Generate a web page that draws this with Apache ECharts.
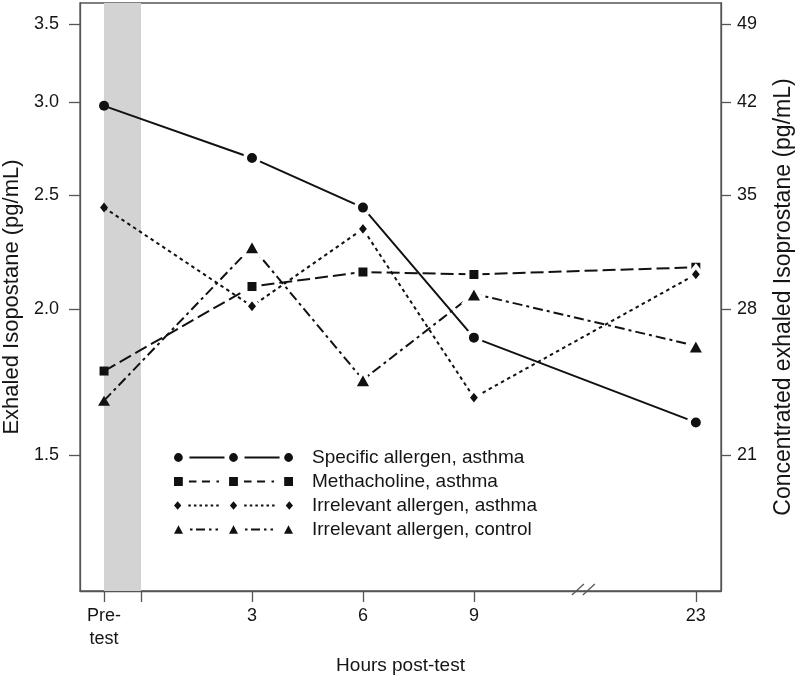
<!DOCTYPE html>
<html><head><meta charset="utf-8">
<script src="https://cdn.jsdelivr.net/npm/echarts@6/dist/echarts.min.js"></script>
<style>html,body{margin:0;padding:0;background:#fff}#c{width:795px;height:680px}</style>
</head><body><div id="c"></div>
<script>
// ---- data ----
const hourLabels = ['Pre-\ntest', '3', '6', '9', '23'];
const hourPositions = [-1, 3, 6, 9, 15];      // plotted position (axis is broken between 9 and 23)
const tickPositions = [-1, 0, 3, 6, 9, 15];
const seriesNames = ['Specific allergen, asthma', 'Methacholine, asthma', 'Irrelevant allergen, asthma', 'Irrelevant allergen, control'];
const specificAllergen = [2.98, 2.69, 2.44, 1.89, 1.60];
const methacholine = [1.77, 2.09, 2.15, 2.14, 2.17];
const irrelevantAsthma = [2.44, 2.01, 2.34, 1.68, 2.14];
const irrelevantControl = [1.67, 2.26, 1.74, 2.06, 1.86];
const leftTicks = [1.5, 2.0, 2.5, 3.0, 3.5];
const rightTicks = [21, 28, 35, 42, 49];
const rightFactor = 14;
const challengeWindow = [-1, 0];
const axisBreakAt = 12;
const yRange = [1.149, 3.647];
const xRange = [-1.65, 15.68];

const FONT = '"Liberation Sans", Arial, Helvetica, sans-serif';
const INK = '#111';
const TXT = '#151515';
const AXC = '#555';
const BAND = '#d3d3d3';
const ln = Math.log;

const styles = [
  { symbol: 'circle', size: 14, plain: 10, type: 'solid' },
  { symbol: 'rect', size: 13, plain: 9, type: [13, 5] },
  { symbol: 'diamond', size: [13, 16], plain: [8, 10], type: [3.5, 3.5] },
  { symbol: 'triangle', size: [19, 17], plain: [12, 10], type: [10, 4, 3, 4] }
];

function toPoints(vals, st) {
  return vals.map((v, i) => {
    const p = { value: [hourPositions[i], ln(v)] };
    if (hourPositions[i] === challengeWindow[0]) {
      p.symbolSize = st.plain;
      p.itemStyle = { borderWidth: 0 };
    }
    return p;
  });
}
function labelFor(list, v, digits) {
  for (const t of list) if (Math.abs(ln(t) - v) < 1e-6) return digits ? t.toFixed(digits) : String(t);
  return '';
}

// legend icon builders (shapes only)
const C = 6;
const circ = (cx, r) => `M${cx - r} ${C} A${r} ${r} 0 1 0 ${cx + r} ${C} A${r} ${r} 0 1 0 ${cx - r} ${C} Z `;
const sq = (cx, h) => `M${cx - h} ${C - h} L${cx + h} ${C - h} L${cx + h} ${C + h} L${cx - h} ${C + h} Z `;
const dia = (cx, w, h) => `M${cx} ${C - h} L${cx + w} ${C} L${cx} ${C + h} L${cx - w} ${C} Z `;
const tri = (cx, w, h) => `M${cx} ${C - h} L${cx + w} ${C + h} L${cx - w} ${C + h} Z `;
const seg = (a, b, t) => `M${a} ${C - t} L${b} ${C - t} L${b} ${C + t} L${a} ${C + t} Z `;
const centers = [4.5, 59.5, 114.5];
function icon(marker, segs) {
  let d = '';
  centers.forEach(c => d += marker(c));
  [0, 55].forEach(off => segs.forEach(s => d += seg(s[0] + off, s[1] + off, 0.9)));
  return 'path://' + d;
}
const legendIcons = [
  icon(c => circ(c, 4.4), [[15.5, 50.5]]),
  icon(c => sq(c, 4.4), [[15, 22.5], [28, 36], [42.5, 45]]),
  icon(c => dia(c, 3.6, 4.3), [[15, 17.5], [20.5, 23], [26, 28.5], [31.5, 34], [37, 39.5], [42.5, 45]]),
  icon(c => tri(c, 4.5, 4.3), [[16, 18.5], [22, 31], [35, 37.5], [41.5, 44]])
];

const values = [specificAllergen, methacholine, irrelevantAsthma, irrelevantControl];

const chart = echarts.init(document.getElementById('c'), null, { renderer: 'canvas' });

const series = [{
  type: 'line', name: 'band', data: [], silent: true, z: 0,
  markArea: { silent: true, itemStyle: { color: BAND, opacity: 1, borderWidth: 0 }, data: [[{ xAxis: challengeWindow[0] }, { xAxis: challengeWindow[1] }]] }
}];
values.forEach((vals, i) => {
  series.push({
    type: 'line', name: seriesNames[i], data: toPoints(vals, styles[i]), z: 3 + i,
    symbol: styles[i].symbol, symbolSize: styles[i].size, showSymbol: true,
    lineStyle: { color: INK, width: 2, type: styles[i].type },
    itemStyle: { color: INK, borderColor: '#fff', borderWidth: 4 },
    emphasis: { disabled: true }
  });
});

const axisText = { fontSize: 18, color: TXT, fontFamily: FONT };
const axisLine = { show: true, onZero: false, lineStyle: { color: AXC, width: 1.3 } };

chart.setOption({
  animation: false,
  backgroundColor: '#fff',
  grid: { left: 80, right: 74, top: 3, bottom: 89, outerBoundsMode: 'none', containLabel: false, show: true, borderColor: AXC, borderWidth: 1.3, backgroundColor: 'transparent' },
  legend: {
    orient: 'vertical', left: 174, top: 448, padding: 0, itemWidth: 119, itemHeight: 12, itemGap: 5,
    selectedMode: false,
    itemStyle: { borderWidth: 0, borderColor: 'transparent' },
    data: seriesNames.map((n, i) => ({ name: n, icon: legendIcons[i] })),
    textStyle: { fontSize: 19, color: TXT, fontFamily: FONT, lineHeight: 18, padding: [0, 0, 0, 14] }
  },
  xAxis: {
    type: 'value', min: xRange[0], max: xRange[1],
    name: 'Hours post-test', nameLocation: 'middle', nameGap: 62,
    nameTextStyle: { fontSize: 19, color: TXT, fontFamily: FONT },
    axisLine: axisLine,
    axisTick: { show: true, length: 11, customValues: tickPositions, lineStyle: { color: AXC, width: 1.3 } },
    axisLabel: {
      ...axisText, margin: 14, lineHeight: 23, customValues: hourPositions,
      formatter: v => { const i = hourPositions.indexOf(v); return i >= 0 ? hourLabels[i] : ''; }
    },
    splitLine: { show: false }
  },
  yAxis: [{
    type: 'value', min: ln(yRange[0]), max: ln(yRange[1]), position: 'left',
    name: 'Exhaled Isopostane (pg/mL)', nameLocation: 'middle', nameGap: 55, nameRotate: 90,
    nameTextStyle: { fontSize: 22, color: TXT, fontFamily: FONT },
    axisLine: axisLine,
    axisTick: { show: true, length: 11, customValues: leftTicks.map(ln), lineStyle: { color: AXC, width: 1.3 } },
    axisLabel: { ...axisText, margin: 21, customValues: leftTicks.map(ln), formatter: v => labelFor(leftTicks, v, 1) },
    splitLine: { show: false }
  }, {
    type: 'value', min: ln(yRange[0] * rightFactor), max: ln(yRange[1] * rightFactor), position: 'right',
    name: 'Concentrated exhaled Isoprostane (pg/mL)', nameLocation: 'middle', nameGap: 51, nameRotate: 90,
    nameTextStyle: { fontSize: 23, color: TXT, fontFamily: FONT },
    axisLine: axisLine,
    axisTick: { show: true, length: 10, customValues: rightTicks.map(ln), lineStyle: { color: AXC, width: 1.3 } },
    axisLabel: { ...axisText, margin: 16, customValues: rightTicks.map(ln), formatter: v => labelFor(rightTicks, v, 0) },
    splitLine: { show: false }
  }],
  series: series
});

// axis-break marks "//" on the x axis
const bx = chart.convertToPixel({ xAxisIndex: 0 }, axisBreakAt);
const by = chart.convertToPixel({ yAxisIndex: 0 }, ln(yRange[0]));
chart.setOption({
  graphic: [
    { type: 'line', shape: { x1: bx - 13, y1: by + 4, x2: bx - 1, y2: by - 7 }, style: { stroke: AXC, lineWidth: 1.2 }, z: 100 },
    { type: 'line', shape: { x1: bx - 2, y1: by + 4, x2: bx + 10, y2: by - 7 }, style: { stroke: AXC, lineWidth: 1.2 }, z: 100 }
  ]
});
</script>
</body></html>
